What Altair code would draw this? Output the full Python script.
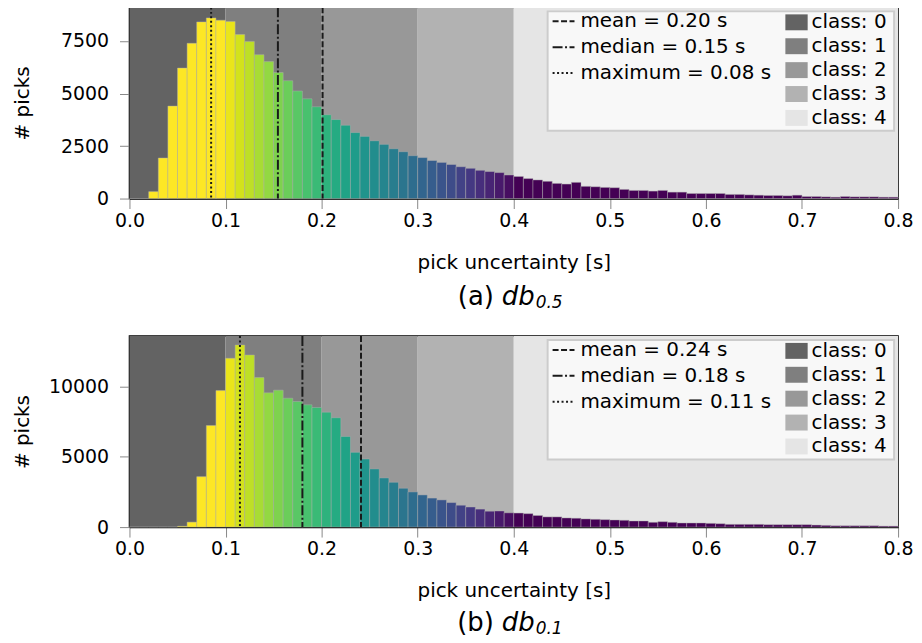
import altair as alt
import pandas as pd

# ---- data ----
bin_left = [round(i * 0.01, 2) for i in range(80)]
bin_right = [round(b + 0.01, 2) for b in bin_left]

counts_a = [0, 0, 330, 1930, 4400, 6210, 7390, 8410, 8600, 8490,
            8430, 7810, 7480, 6850, 6520, 6000, 5610, 5120, 4750, 4370,
            3990, 3760, 3490, 3140, 2960, 2750, 2580, 2370, 2230, 2040,
            1950, 1810, 1720, 1620, 1515, 1440, 1345, 1285, 1235, 1120,
            1050, 950, 885, 820, 720, 690, 770, 580, 560, 530,
            515, 435, 385, 385, 355, 385, 305, 305, 240, 240,
            240, 240, 195, 195, 175, 160, 145, 145, 130, 160,
            95, 95, 80, 65, 95, 80, 80, 80, 65, 65]

counts_b = [0, 0, 0, 0, 0, 60, 355, 3590, 7230, 9715,
            12010, 12955, 12245, 10640, 9550, 9740, 9170, 8935, 8700, 8510,
            8180, 7780, 6450, 5320, 4845, 4140, 3500, 3190, 2765, 2505,
            2290, 2065, 1935, 1745, 1555, 1430, 1280, 1130, 1145, 1015,
            1000, 955, 825, 725, 725, 650, 630, 580, 555, 530,
            505, 485, 435, 435, 340, 385, 340, 290, 290, 290,
            265, 240, 195, 195, 195, 195, 170, 170, 170, 170,
            170, 145, 120, 95, 95, 95, 95, 95, 70, 70]

class_labels = ["class: 0", "class: 1", "class: 2", "class: 3", "class: 4"]
class_lo = [0.0, 0.1, 0.2, 0.3, 0.4]
class_hi = [0.1, 0.2, 0.3, 0.4, 0.8]
class_colors = ["#636363", "#7f7f7f", "#989898", "#b2b2b2", "#e5e5e5"]

stat_names = ["mean", "median", "maximum"]
stats_a = [0.201, 0.1545, 0.085]
stats_a_text = ["0.20", "0.15", "0.08"]
stats_b = [0.241, 0.180, 0.115]
stats_b_text = ["0.24", "0.18", "0.11"]

ymax_a, yticks_a = 9100, [0, 2500, 5000, 7500]
ymax_b, yticks_b = 13600, [0, 5000, 10000]

x_ticks = [0.0, 0.1, 0.2, 0.3, 0.4, 0.5, 0.6, 0.7, 0.8]

FONT = "DejaVu Sans"
FS = 19
W, H = 772, 192


def panel(counts, stats, stats_text, ymax, yticks, tag, sub, cap_y):
    hist = pd.DataFrame({"lo": bin_left, "hi": bin_right, "n": counts})
    bands_df = pd.DataFrame({"lo": class_lo, "hi": class_hi, "cls": class_labels})
    stat_labels = [f"{n} = {t} s" for n, t in zip(stat_names, stats_text)]
    stats_df = pd.DataFrame({"v": stats, "lab": stat_labels})
    one = pd.DataFrame({"t": [tag], "d": ["db"], "s": [sub]})

    xs = alt.Scale(domain=[0, 0.8], nice=False, zero=False)
    x_axis = alt.Axis(values=x_ticks, format=".1f", title="pick uncertainty [s]",
                      titlePadding=22, labelPadding=3, labelFlush=False)
    ys = alt.Scale(domain=[0, ymax], nice=False)
    y_axis = alt.Axis(values=yticks, format="d", title="# picks",
                      titleX=-107, titleY=H / 2, titleBaseline="middle",
                      labelPadding=11, labelFlush=False)

    bands = alt.Chart(bands_df).mark_rect().encode(
        x=alt.X("lo:Q", scale=xs, axis=x_axis),
        x2="hi:Q",
        y=alt.value(0),
        y2=alt.value(H),
        color=alt.Color("cls:N", scale=alt.Scale(domain=class_labels, range=class_colors),
                        legend=alt.Legend(title=None, orient="none", legendX=660, legendY=5,
                                          symbolType="M-1.4,-1H1.4V1H-1.4Z", symbolSize=256,
                                          symbolStrokeWidth=0, labelOffset=5, rowPadding=4,
                                          padding=0)),
    )

    bars = alt.Chart(hist).mark_rect(stroke="#b0b0b0", strokeWidth=0.8, strokeOpacity=0.55).encode(
        x=alt.X("lo:Q", scale=xs, axis=x_axis),
        x2="hi:Q",
        y=alt.Y("n:Q", scale=ys, axis=y_axis),
        y2=alt.datum(0),
        color=alt.Color("lo:Q", scale=alt.Scale(scheme="viridis", reverse=True,
                                                 domain=[0.09, 0.40], clamp=True),
                        legend=None),
    )

    rules = alt.Chart(stats_df).mark_rule(color="#1a1a1a", strokeWidth=2).encode(
        x=alt.X("v:Q", scale=xs, axis=x_axis),
        strokeDash=alt.StrokeDash(
            "lab:N",
            scale=alt.Scale(domain=stat_labels, range=[[6, 2.5], [10, 2.5, 2, 2.5], [2, 2.5]]),
            legend=alt.Legend(title=None, orient="none", legendX=424, legendY=2,
                              symbolType="stroke", symbolSize=484, symbolStrokeWidth=2,
                              symbolStrokeColor="#1a1a1a", labelOffset=5, rowPadding=4,
                              padding=0, labelLimit=400),
        ),
    )

    box = alt.Chart(one).mark_rect(fill="#f8f8f8", stroke="#cccccc", strokeWidth=2).encode(
        x=alt.value(420), x2=alt.value(768), y=alt.value(4), y2=alt.value(124)
    )

    cap1 = alt.Chart(one).mark_text(font=FONT, fontSize=26, align="right", baseline="middle",
                                     color="black").encode(
        text="t:N", x=alt.value(366), y=alt.value(cap_y))
    cap2 = alt.Chart(one).mark_text(font=FONT, fontSize=26, fontStyle="italic", align="left",
                                     baseline="middle", color="black").encode(
        text="d:N", x=alt.value(374), y=alt.value(cap_y))
    cap3 = alt.Chart(one).mark_text(font=FONT, fontSize=17, fontStyle="italic", align="left",
                                     baseline="middle", color="black").encode(
        text="s:N", x=alt.value(408), y=alt.value(cap_y + 6))

    return alt.layer(bands, bars, rules, box, cap1, cap2, cap3).resolve_scale(
        color="independent").properties(width=W, height=H)


top = panel(counts_a, stats_a, stats_a_text, ymax_a, yticks_a, "(a)", "0.5", 291)
bottom = panel(counts_b, stats_b, stats_b_text, ymax_b, yticks_b, "(b)", "0.1", 288)

chart = alt.vconcat(top, bottom, spacing=22).resolve_scale(
    color="independent", strokeDash="independent", x="independent", y="independent"
).resolve_legend(color="independent", strokeDash="independent").configure(
    font=FONT, padding={"left": 4, "top": -4, "right": 0, "bottom": 0}
).configure_view(stroke="black", strokeWidth=1.5).configure_axis(
    labelFont=FONT, labelFontSize=FS, labelColor="black", titleFont=FONT, titleFontSize=20,
    titleFontWeight="normal", titleColor="black", tickColor="#888888", tickSize=10, tickWidth=1,
    domainColor="black", domainWidth=1.5, grid=False
).configure_legend(
    labelFont=FONT, labelFontSize=20, labelColor="black"
)

chart.save("out.html", embed_options={"renderer": "svg", "actions": False})
